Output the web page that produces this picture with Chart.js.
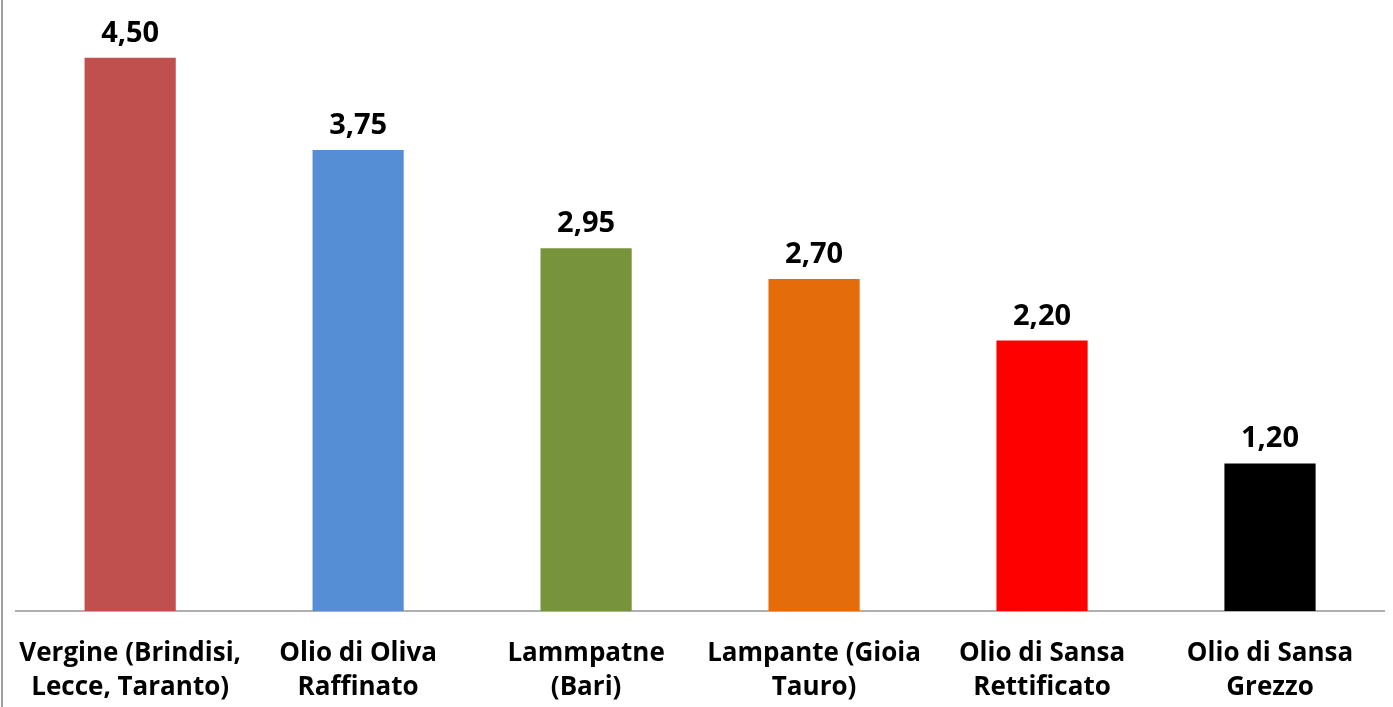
<!DOCTYPE html>
<html>
<head>
<meta charset="utf-8">
<script src="https://cdn.jsdelivr.net/npm/chart.js@4/dist/chart.umd.min.js"></script>
<style>
  html, body { margin: 0; padding: 0; background: #fff; }
  #wrap { position: relative; width: 1393px; height: 707px; }
  #wrap::before { content: ''; position: absolute; left: 1px; top: 0; bottom: 0; border-left: 2px solid #a0a0a0; }
</style>
</head>
<body>
<div id="wrap"><canvas id="chart" width="1393" height="707"></canvas></div>
<script>
// Dati
const categorie = [
    ['Vergine (Brindisi,', 'Lecce, Taranto)'],
    ['Olio di Oliva', 'Raffinato'],
    ['Lammpatne', '(Bari)'],
    ['Lampante (Gioia', 'Tauro)'],
    ['Olio di Sansa', 'Rettificato'],
    ['Olio di Sansa', 'Grezzo']
];
const valori = [4.50, 3.75, 2.95, 2.70, 2.20, 1.20];
const colori = ['#C0504D', '#558ED5', '#77933C', '#E46C0A', '#FF0000', '#000000'];

const fontFamily = '"Open Sans", "Liberation Sans", sans-serif';

// Etichette dei valori sopra le barre
const etichetteValori = {
    id: 'etichetteValori',
    afterDatasetsDraw(chart) {
        const ctx = chart.ctx;
        const meta = chart.getDatasetMeta(0);
        ctx.save();
        ctx.font = 'bold 29px ' + fontFamily;
        ctx.fillStyle = '#000';
        ctx.textAlign = 'center';
        ctx.textBaseline = 'alphabetic';
        meta.data.forEach((bar, i) => {
            const testo = valori[i].toFixed(2).replace('.', ',');
            ctx.fillText(testo, bar.x, bar.y - 16);
        });
        ctx.restore();
    }
};

new Chart(document.getElementById('chart'), {
    type: 'bar',
    data: {
        labels: categorie,
        datasets: [{
            data: valori,
            backgroundColor: colori,
            borderWidth: 0,
            barPercentage: 0.4,
            categoryPercentage: 1
        }]
    },
    options: {
        responsive: false,
        animation: false,
        layout: { padding: { left: 16, right: 9, top: 0, bottom: 0 } },
        plugins: {
            legend: { display: false },
            tooltip: { enabled: false }
        },
        scales: {
            x: {
                grid: { display: false },
                border: { display: true, color: '#b0b0b0', width: 2 },
                ticks: {
                    color: '#000',
                    padding: 18,
                    maxRotation: 0,
                    autoSkip: false,
                    font: { family: fontFamily, size: 26, weight: 'bold', lineHeight: 1.31 }
                },
                afterFit(scale) {
                    scale.height = 96;
                }
            },
            y: {
                display: false,
                min: 0,
                max: 4.97
            }
        }
    },
    plugins: [etichetteValori]
});
</script>
</body>
</html>
